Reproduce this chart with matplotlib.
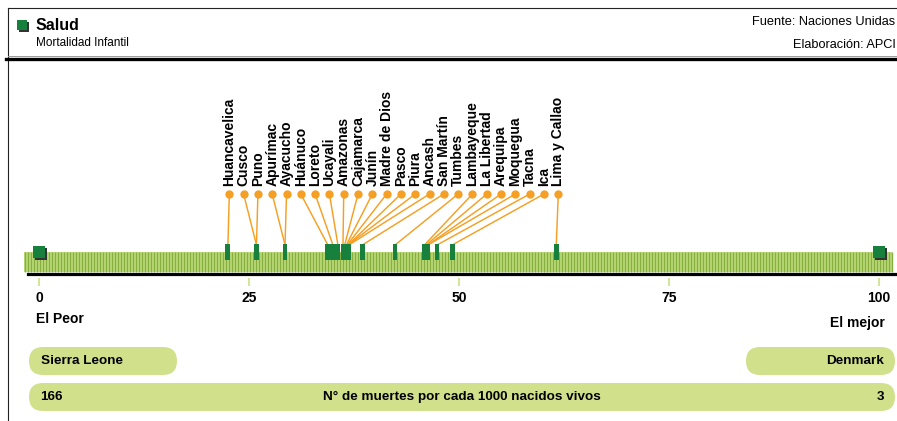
import matplotlib
matplotlib.use('Agg')
import matplotlib.pyplot as plt
from matplotlib.patches import FancyBboxPatch, Rectangle
import numpy as np

plt.rcParams['font.family'] = ['Liberation Sans', 'DejaVu Sans']

# ---------------- data ----------------
regions = ["Huancavelica", "Cusco", "Puno", "Apurímac", "Ayacucho", "Huánuco",
           "Loreto", "Ucayali", "Amazonas", "Cajamarca", "Junín", "Madre de Dios",
           "Pasco", "Piura", "Ancash", "San Martín", "Tumbes", "Lambayeque",
           "La Libertad", "Arequipa", "Moquegua", "Tacna", "Ica", "Lima y Callao"]
index_vals = [22.5, 25.9, 25.9, 29.3, 29.3, 34.4, 35.0, 35.6, 36.2, 36.4, 36.6, 36.7,
              36.8, 36.8, 36.9, 38.5, 42.4, 45.9, 46.1, 46.3, 46.3, 47.4, 49.2, 61.6]
scale_ticks = [0, 25, 50, 75, 100]
worst_label, best_label = "El Peor", "El mejor"
worst_country, best_country = "Sierra Leone", "Denmark"
worst_value, best_value = "166", "3"
unit_text = "N° de muertes por cada 1000 nacidos vivos"
title, subtitle = "Salud", "Mortalidad Infantil"
source, credit = "Fuente: Naciones Unidas", "Elaboración: APCI"

# ---------------- figure ----------------
W, H = 897, 421
fig = plt.figure(figsize=(W / 100, H / 100), dpi=100)
deco = fig.add_axes([0, 0, 1, 1])
deco.set_xlim(0, W)
deco.set_ylim(H, 0)
deco.axis('off')

X_PX0, X_PX100 = 39.0, 878.7
ppu = (X_PX100 - X_PX0) / 100.0
ax = fig.add_axes([0, 0, 1, 1])
ax.set_xlim(-X_PX0 / ppu, (W - X_PX0) / ppu)
ax.set_ylim(H, 0)
ax.axis('off')

DKGREEN = '#17803d'
ORANGE = '#f5a024'
PILL = '#d1e18b'

# header frame
deco.plot([8, W], [8, 8], color='#222222', lw=0.8)
deco.plot([8, 8], [8, H], color='#222222', lw=0.8)
deco.plot([8, W], [56.3, 56.3], color='#9a9a9a', lw=0.7)
deco.plot([6, W], [59, 59], color='black', lw=2.4)

deco.add_patch(Rectangle((18.5, 21.5), 10, 10, color='#333333', lw=0))
deco.add_patch(Rectangle((16.5, 19.5), 10, 10, color=DKGREEN, lw=0))
deco.text(36, 26, title, fontsize=11.5, fontweight='bold', va='center', ha='left')
deco.text(36, 43.5, subtitle, fontsize=8.5, va='center', ha='left')
deco.text(895, 22, source, fontsize=9.2, va='center', ha='right')
deco.text(793, 44.5, credit, fontsize=9.2, va='center', ha='left')

# scale bar background with stripes
x_left, x_right = (24 - X_PX0) / ppu, (892 - X_PX0) / ppu
ax.add_patch(Rectangle((x_left, 252), x_right - x_left, 20, color='#bfdb7c', lw=0, zorder=1))
ax.vlines(np.arange(x_left + 0.1, x_right, 3 / ppu), 252, 272, color='#86ae3f', lw=1.0, zorder=1.5)
ax.plot([(28 - X_PX0) / ppu, (W - X_PX0) / ppu], [273.8, 273.8], color='black', lw=2.3, zorder=2)

# ticks
ax.vlines(scale_ticks, 278, 286, color='#d3e59b', lw=1.5)
for t in scale_ticks:
    ax.text(t, 298, str(t), ha='center', va='center', fontsize=10, fontweight='bold')
deco.text(36, 319, worst_label, ha='left', va='center', fontsize=10, fontweight='bold')
deco.text(885, 323, best_label, ha='right', va='center', fontsize=10, fontweight='bold')

# endpoint squares
ends = [scale_ticks[0], scale_ticks[-1]]
ax.scatter(np.array(ends) + 2 / ppu, [254, 254], marker='s', s=75, color='#333333', lw=0, zorder=6)
ax.scatter(ends, [252, 252], marker='s', s=75, color=DKGREEN, lw=0, zorder=7)

# labels, leader lines, markers
n = len(regions)
label_x = np.linspace((229.3 - X_PX0) / ppu, (558.3 - X_PX0) / ppu, n)
for lx, v in zip(label_x, index_vals):
    ax.plot([lx, v], [194, 245], color=ORANGE, lw=1.05, zorder=3)
ax.scatter(label_x, [194] * n, s=36, color=ORANGE, lw=0, zorder=4)
ax.bar(index_vals, 16, bottom=244, width=0.58, color=DKGREEN, zorder=5)
for lx, name in zip(label_x, regions):
    ax.text(lx, 186, name, rotation=90, ha='center', va='bottom',
            fontsize=10, fontweight='bold')

# bottom pills
def pill(x0, y0, w, h):
    deco.add_patch(FancyBboxPatch((x0, y0), w, h,
                                  boxstyle=f'round,pad=0,rounding_size={h / 2}',
                                  fc=PILL, ec='none'))

pill(29, 347, 148, 28)
pill(746, 347, 149, 28)
pill(29, 383, 866, 28)
deco.text(41, 361, worst_country, ha='left', va='center', fontsize=9.7, fontweight='bold')
deco.text(884, 361, best_country, ha='right', va='center', fontsize=9.7, fontweight='bold')
deco.text(40, 397, worst_value, ha='left', va='center', fontsize=9.7, fontweight='bold')
deco.text(884, 397, best_value, ha='right', va='center', fontsize=9.7, fontweight='bold')
deco.text(462, 397, unit_text, ha='center', va='center', fontsize=9.7, fontweight='bold')

fig.savefig('out.png', dpi=100)
